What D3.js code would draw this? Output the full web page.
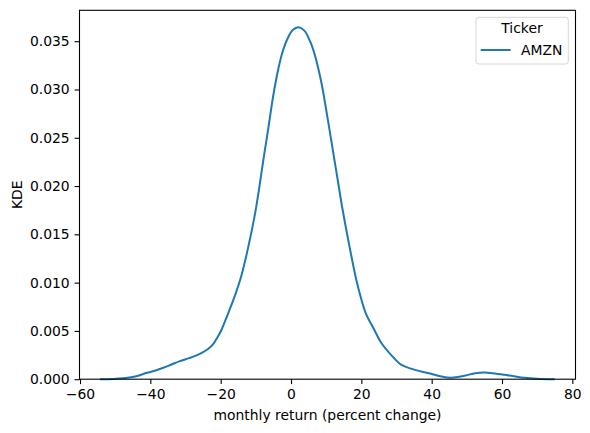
<!DOCTYPE html>
<html>
<head>
<meta charset="utf-8">
<script src="https://cdn.jsdelivr.net/npm/d3@7"></script>
<style>
  body { margin: 0; background: #fff; }
  text { font-family: "DejaVu Sans", sans-serif; fill: #000; }
</style>
</head>
<body>
<div class="container"></div>
<script>
// KDE of AMZN monthly returns
const returns = [-54.3, -50.5, -47.7, -44.0, -41.0, -38.5, -36.3, -33.8, -31.6, -29.0,
  -26.9, -25.0, -23.5, -22.2, -21.0, -19.8, -17.9, -16.0, -14.2, -12.15, -10.2, -9.0,
  -7.7, -6.46, -5.41, -4.75, -3.98, -2.56, -0.94, 0.48, 2.1, 3.8, 5.41, 6.83, 8.05, 9.02,
  9.68, 10.6, 11.95, 13.29, 14.6, 16.6, 18.5, 19.9, 21.3, 23.7, 25.6, 28.5, 31.3, 34.1,
  37.0, 39.8, 42.5, 45.5, 49.3, 52.0, 55.0, 58.0, 60.7, 63.5, 66.4, 70.0, 75.0];
const density = [0, 0.00003, 0.0001, 0.0003, 0.00066, 0.0009, 0.00118, 0.00155, 0.00187, 0.00218,
  0.00246, 0.0028, 0.00315, 0.0036, 0.0043, 0.0051, 0.0068, 0.0086, 0.0106, 0.0137, 0.0172, 0.01992,
  0.0231, 0.02597, 0.02857, 0.0300, 0.0315, 0.0337, 0.0353, 0.03615, 0.03645, 0.0361, 0.0350, 0.0335, 0.0317, 0.0300,
  0.0286, 0.0266, 0.0236, 0.0206, 0.0177, 0.0138, 0.0104, 0.0084, 0.0068, 0.0051, 0.0038, 0.0025, 0.0015, 0.0011,
  0.0008, 0.00056, 0.0003, 0.00015, 0.00035, 0.0006, 0.0007, 0.0006, 0.00046, 0.0003, 0.00015, 0.00005, 0];
const xTicks = [-60, -40, -20, 0, 20, 40, 60, 80];
const yTicks = [0, 0.005, 0.010, 0.015, 0.020, 0.025, 0.030, 0.035];
const tickers = ["AMZN"];

const w = 590, h = 433;
const margin = {left: 79.5, top: 10.3, right: 14.5, bottom: 53.8};
const color = "#1f77b4";
const fs = 13.9;

const xScale = d3.scaleLinear()
  .domain([-60.15, 80.9])
  .range([margin.left, w - margin.right]);
const yScale = d3.scaleLinear()
  .domain([0, 0.0382])
  .range([h - margin.bottom, margin.top]);

const svg = d3.select(".container").append("svg")
  .attr("width", w).attr("height", h);

const pts = returns.map((r, i) => [r, density[i]]);
const line = d3.line()
  .x(d => xScale(d[0]))
  .y(d => yScale(d[1]))
  .curve(d3.curveCatmullRom.alpha(0.5));

svg.append("path")
  .datum(pts)
  .attr("d", line)
  .attr("fill", "none")
  .attr("stroke", color)
  .attr("stroke-width", 2)
  .attr("stroke-linejoin", "round");

const xAxis = d3.axisBottom(xScale).tickValues(xTicks).tickSize(4.9).tickPadding(4.9)
  .tickFormat(d => d < 0 ? "\u2212" + Math.abs(d) : d);
const yAxis = d3.axisLeft(yScale).tickValues(yTicks).tickSize(4.9).tickPadding(4.9)
  .tickFormat(d3.format(".3f"));

svg.append("g")
  .attr("transform", "translate(0," + (h - margin.bottom) + ")")
  .call(xAxis)
  .call(g => g.select(".domain").remove());
svg.append("g")
  .attr("transform", "translate(" + margin.left + ",0)")
  .call(yAxis)
  .call(g => g.select(".domain").remove());

svg.selectAll(".tick text").attr("font-size", fs).attr("font-family", "DejaVu Sans");
svg.selectAll(".tick line").attr("stroke", "#000").attr("stroke-width", 1.1);

// frame
svg.append("rect")
  .attr("x", margin.left).attr("y", margin.top)
  .attr("width", w - margin.left - margin.right)
  .attr("height", h - margin.top - margin.bottom)
  .attr("fill", "none").attr("stroke", "#000").attr("stroke-width", 1.1);

svg.append("text")
  .attr("x", (margin.left + w - margin.right) / 2)
  .attr("y", 419.5)
  .attr("text-anchor", "middle")
  .attr("font-size", fs)
  .text("monthly return (percent change)");

svg.append("text")
  .attr("transform", "translate(21.7," + ((margin.top + h - margin.bottom) / 2) + ") rotate(-90)")
  .attr("text-anchor", "middle")
  .attr("font-size", fs)
  .text("KDE");

// legend
const lg = svg.append("g");
lg.append("rect")
  .attr("x", 476).attr("y", 17.3).attr("width", 92.3).attr("height", 46.7)
  .attr("rx", 3).attr("fill", "#fff").attr("fill-opacity", 0.8)
  .attr("stroke", "#d6d6d6").attr("stroke-width", 1);
lg.append("text")
  .attr("x", 522).attr("y", 33.3)
  .attr("text-anchor", "middle")
  .attr("font-size", fs)
  .text("Ticker");
tickers.forEach((t, i) => {
  lg.append("line")
    .attr("x1", 480.7).attr("x2", 510.7)
    .attr("y1", 50 + i * 20).attr("y2", 50 + i * 20)
    .attr("stroke", color).attr("stroke-width", 2);
  lg.append("text")
    .attr("x", 521).attr("y", 55 + i * 20)
    .attr("font-size", fs)
    .text(t);
});
</script>
</body>
</html>
